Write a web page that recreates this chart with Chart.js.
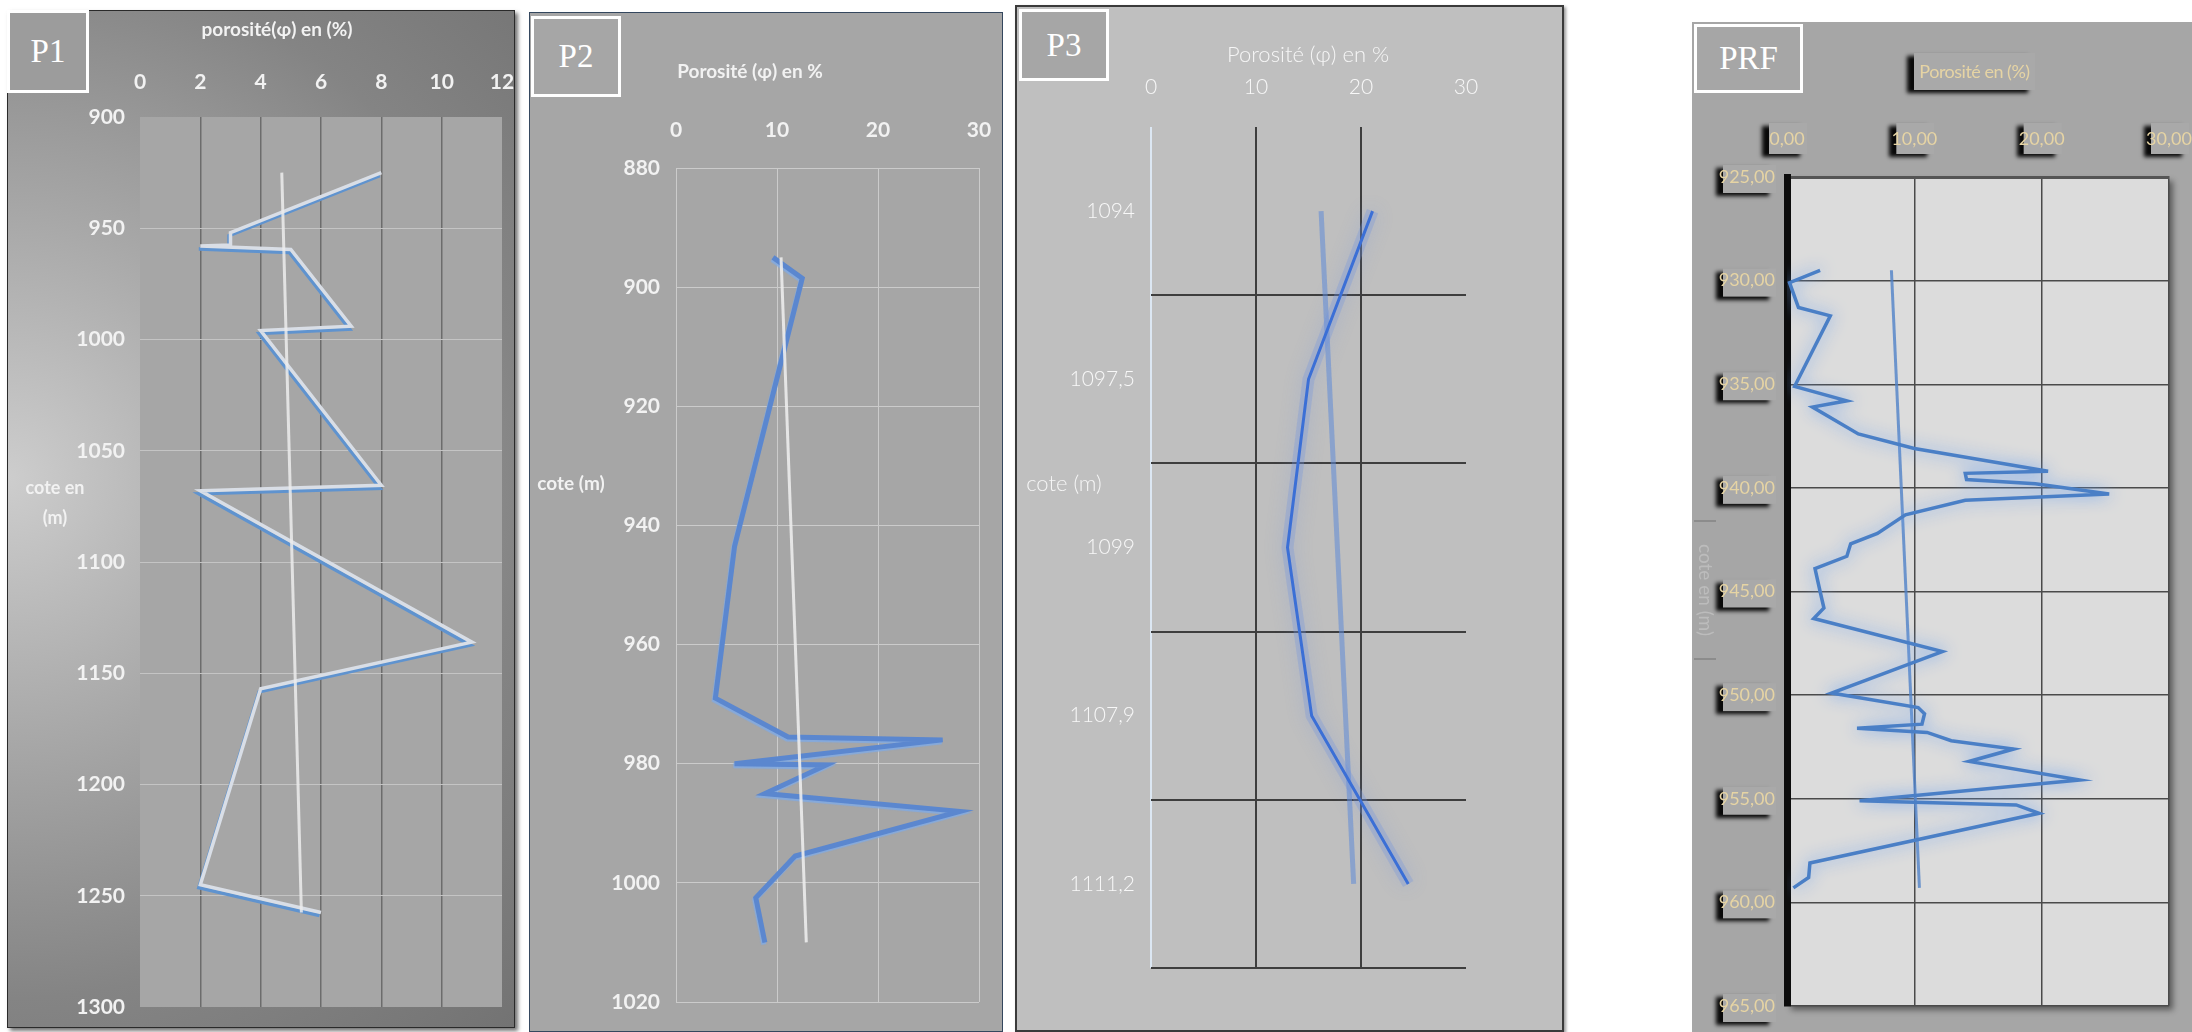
<!DOCTYPE html>
<html>
<head>
<meta charset="utf-8">
<script src="https://cdn.jsdelivr.net/npm/chart.js@4.4.1/dist/chart.umd.min.js"></script>
<style>
  body { margin: 0; width: 2192px; height: 1032px; background: #fff; position: relative; overflow: hidden; font-family: Lato, 'Open Sans', sans-serif; }
  .frame { position: absolute; box-sizing: border-box; }
  canvas { position: absolute; }
  .tag { position: absolute; box-sizing: border-box; border: 3px solid #fff; color: #fff; font-family: 'Liberation Serif', 'DejaVu Serif', serif; font-size: 33px; display: flex; align-items: center; justify-content: center; }
  .txt { position: absolute; white-space: nowrap; transform: translate(-50%, -50%); color: #f2f2f2; }
</style>
</head>
<body>
<div class="frame" style="left:7px;top:10px;width:508px;height:1018px;border:1px solid #2a2a2a;box-shadow:3px 3px 4px rgba(0,0,0,.55);background:radial-gradient(circle at 0% 46%, #cdcdcd 0px, #a8a8a8 260px, #848484 520px, #676767 900px);"></div>
<div class="frame" style="left:529px;top:12px;width:474px;height:1020px;border:1px solid #34475e;background:#a6a6a6;"></div>
<div class="frame" style="left:1015px;top:5px;width:549px;height:1027px;border:2px solid #3a3a3a;background:#bfbfbf;box-shadow:2px 2px 3px rgba(0,0,0,.4);"></div>
<div class="frame" style="left:1692px;top:22px;width:500px;height:1010px;background:#a6a6a6;"></div>

<canvas id="p1"></canvas>
<canvas id="p2"></canvas>
<canvas id="p3"></canvas>
<canvas id="prf"></canvas>

<div class="tag" style="left:7px;top:10px;width:82px;height:83px;background:#9c9c9c;">P1</div>
<div class="tag" style="left:531px;top:16px;width:90px;height:81px;background:#a6a6a6;">P2</div>
<div class="tag" style="left:1019px;top:9px;width:90px;height:72px;background:#a6a6a6;">P3</div>
<div class="tag" style="left:1694px;top:24px;width:109px;height:69px;background:#a6a6a6;">PRF</div>

<div class="txt" style="left:277px;top:28px;font-size:19px;font-weight:bold;">porosité(φ) en (%)</div>
<div class="txt" style="left:55px;top:487px;font-size:18px;font-weight:bold;">cote en</div>
<div class="txt" style="left:55px;top:517px;font-size:18px;font-weight:bold;">(m)</div>

<div class="txt" style="left:750px;top:70px;font-size:19px;font-weight:bold;">Porosité (φ) en %</div>
<div class="txt" style="left:571px;top:482px;font-size:19px;font-weight:bold;">cote (m)</div>

<div class="txt" style="left:1308px;top:53px;font-size:22px;font-weight:300;color:#f6f6f6;">Porosité (φ) en %</div>
<div class="txt" style="left:1064px;top:482px;font-size:22px;font-weight:300;color:#f6f6f6;">cote (m)</div>

<div style="position:absolute;left:1914px;top:53px;width:121px;height:37px;background:#a9a9a9;box-shadow:-7px 3px 4px rgba(0,0,0,.95);color:#e6d4a4;font-size:18px;line-height:37px;text-align:center;white-space:nowrap;letter-spacing:-0.5px;">Porosité en (%)</div>
<div style="position:absolute;left:1694px;top:520px;width:22px;height:140px;border-top:2px solid #8c8c8c;border-bottom:2px solid #8c8c8c;box-sizing:border-box;"></div>
<div class="txt" style="left:1706px;top:590px;font-size:19px;color:#bcbcbc;transform:translate(-50%,-50%) rotate(90deg);">cote en (m)</div>

<script>
// P1
const p1Depth = [925, 952, 957.5, 958, 959.5, 994, 996, 1065.5, 1068, 1136, 1157, 1245, 1257.5]
const p1Poro = [8, 3, 3, 2, 5, 7, 4, 8, 2, 11, 4, 2, 6]
const p1TrendDepth = [925, 1257.5]
const p1TrendPoro = [4.7, 5.35]
const p1XTicks = [0, 2, 4, 6, 8, 10, 12]
const p1YTicks = [900, 950, 1000, 1050, 1100, 1150, 1200, 1250, 1300]

// P2
const p2Depth = [895, 898.5, 943.5, 969, 975.5, 976, 980, 980.2, 985, 988, 995.5, 1002.5, 1010]
const p2Poro = [9.6, 12.5, 5.8, 3.9, 11.1, 26.4, 5.8, 14.9, 8.8, 28.1, 11.8, 7.9, 8.8]
const p2TrendDepth = [895, 1010]
const p2TrendPoro = [10.4, 12.9]
const p2XTicks = [0, 10, 20, 30]
const p2YTicks = [880, 900, 920, 940, 960, 980, 1000, 1020]

// P3 (cotes en catégories)
const p3Cotes = ['1094', '1097,5', '1099', '1107,9', '1111,2']
const p3Poro = [21.1, 15.0, 13.0, 15.3, 24.5]
const p3TrendCotes = ['1094', '1111,2']
const p3TrendPoro = [16.2, 19.3]
const p3XTicks = [0, 10, 20, 30]

// PRF
const prfDepth = [929.5, 930.1, 931.3, 931.7, 935.1, 935.8, 936.1, 937.4, 938.1, 939.2, 939.3, 939.6, 939.8,
  940.3, 940.6, 941.3, 942.2, 942.7, 943.3, 943.9, 945.0, 945.8, 946.3, 947.9, 949.9, 950.6, 950.9, 951.4,
  951.6, 951.8, 952.2, 952.6, 953.2, 954.1, 955.1, 955.3, 955.7, 958.1, 958.8, 959.3]
const prfPoro = [2.6, 0.2, 0.9, 3.4, 0.6, 4.7, 2.0, 5.6, 10.0, 20.5, 14.0, 14.1, 19.5,
  25.3, 14.0, 9.3, 7.1, 5.0, 4.7, 2.2, 2.6, 2.9, 2.1, 12.2, 3.5, 10.3, 10.8, 10.6,
  5.5, 11.0, 12.9, 17.8, 14.3, 23.0, 5.7, 18.0, 19.8, 1.8, 1.7, 0.5]
const prfTrendDepth = [929.5, 959.3]
const prfTrendPoro = [8.2, 10.4]
const prfXTicks = [0, 10, 20, 30]
const prfYTicks = [925, 930, 935, 940, 945, 950, 955, 960, 965]

Chart.defaults.font.family = "Lato, 'Open Sans', sans-serif"

// fills the plot rectangle
const plotBg = {
  id: 'plotBg',
  beforeDraw(chart, args, opts) {
    if (!opts.color) return
    const { ctx, chartArea: a } = chart
    ctx.save()
    if (opts.shadow) {
      ctx.shadowColor = opts.shadow
      ctx.shadowBlur = 6
      ctx.shadowOffsetX = 4
      ctx.shadowOffsetY = 4
    }
    ctx.fillStyle = opts.color
    ctx.fillRect(a.left, a.top, a.right - a.left, a.bottom - a.top)
    ctx.restore()
  },
}

// shadow / glow under a line, set per dataset with `glow`
const lineGlow = {
  id: 'lineGlow',
  beforeDatasetDraw(chart, args) {
    const g = chart.data.datasets[args.index].glow
    if (!g) return
    const ctx = chart.ctx
    ctx.save()
    ctx.shadowColor = g.color
    ctx.shadowBlur = g.blur || 0
    ctx.shadowOffsetX = g.dx || 0
    ctx.shadowOffsetY = g.dy || 0
  },
  afterDatasetDraw(chart, args) {
    if (chart.data.datasets[args.index].glow) chart.ctx.restore()
  },
}

Chart.register(plotBg, lineGlow)

function points(xs, ys) {
  return xs.map((v, i) => ({ x: v, y: ys[i] }))
}

function useTicks(list) {
  return (scale) => { scale.ticks = list.map((v) => ({ value: v })) }
}

function panelChart(id, frame, area, datasets, scales, pluginOpts, extra) {
  const canvas = document.getElementById(id)
  canvas.width = frame.w
  canvas.height = frame.h
  canvas.style.left = frame.x + 'px'
  canvas.style.top = frame.y + 'px'
  scales.x.afterFit = (s) => { s.height = area.top - frame.y; s.paddingLeft = 0; s.paddingRight = 0 }
  scales.y.afterFit = (s) => { s.width = area.left - frame.x; s.paddingTop = 0; s.paddingBottom = 0 }
  return new Chart(canvas, {
    type: 'line',
    data: { datasets },
    plugins: extra || [],
    options: {
      responsive: false,
      devicePixelRatio: 1,
      animation: false,
      layout: { padding: { left: 0, top: 0, right: frame.x + frame.w - area.right, bottom: frame.y + frame.h - area.bottom } },
      elements: { point: { radius: 0 }, line: { tension: 0 } },
      plugins: Object.assign({ legend: { display: false }, tooltip: { enabled: false } }, pluginOpts),
      scales,
    },
  })
}

// ---- P1
panelChart('p1', { x: 7, y: 10, w: 508, h: 1018 }, { left: 140, top: 117, right: 502, bottom: 1007 }, [
  { data: points(p1TrendPoro, p1TrendDepth), borderColor: 'rgba(236,236,236,0.85)', borderWidth: 3 },
  { data: points(p1Poro, p1Depth), borderColor: '#d9dee6', borderWidth: 3.5, glow: { color: '#5f93cf', dx: -1.5, dy: 3 } },
], {
  x: {
    type: 'linear', position: 'top', min: 0, max: 12, afterBuildTicks: useTicks(p1XTicks),
    grid: { drawTicks: false, lineWidth: 1.5, color: (c) => (c.tick && (c.tick.value === 0 || c.tick.value === 12)) ? 'transparent' : '#6c6c6c' },
    border: { display: false },
    ticks: { padding: 22, color: '#f2f2f2', font: { size: 21, weight: 'bold' }, callback: (v) => String(v) },
  },
  y: {
    type: 'linear', reverse: true, min: 900, max: 1300, afterBuildTicks: useTicks(p1YTicks),
    grid: { drawTicks: false, lineWidth: 1, color: (c) => (c.tick && (c.tick.value === 900 || c.tick.value === 1300)) ? 'transparent' : '#c4c4c4' },
    border: { display: false },
    ticks: { padding: 15, color: '#f2f2f2', font: { size: 21, weight: 'bold' }, callback: (v) => String(v) },
  },
}, { plotBg: { color: '#a6a6a6' } })

// ---- P2
panelChart('p2', { x: 529, y: 12, w: 474, h: 1020 }, { left: 676, top: 168, right: 979, bottom: 1002 }, [
  { data: points(p2TrendPoro, p2TrendDepth), borderColor: 'rgba(236,236,236,0.9)', borderWidth: 3 },
  { data: points(p2Poro, p2Depth), borderColor: '#5b87cf', borderWidth: 5, glow: { color: 'rgba(130,170,225,0.9)', dx: -1, dy: 2, blur: 1 } },
], {
  x: {
    type: 'linear', position: 'top', min: 0, max: 30, afterBuildTicks: useTicks(p2XTicks),
    grid: { drawTicks: false, lineWidth: 1, color: '#cbcbcb' },
    border: { display: false },
    ticks: { padding: 25, color: '#f2f2f2', font: { size: 21, weight: 'bold' }, callback: (v) => String(v) },
  },
  y: {
    type: 'linear', reverse: true, min: 880, max: 1020, afterBuildTicks: useTicks(p2YTicks),
    grid: { drawTicks: false, lineWidth: 1, color: '#cbcbcb' },
    border: { display: false },
    ticks: { padding: 16, color: '#f2f2f2', font: { size: 21, weight: 'bold' }, callback: (v) => String(v) },
  },
}, {})

// ---- P3
panelChart('p3', { x: 1015, y: 5, w: 549, h: 1027 }, { left: 1151, top: 127, right: 1466, bottom: 968 }, [
  { data: points(p3Poro, p3Cotes), borderColor: '#3b6fd6', borderWidth: 3 },
  // soft halo under the measured curve
  { data: points(p3Poro, p3Cotes), borderColor: 'rgba(112,146,222,0.3)', borderWidth: 12, glow: { color: 'rgba(105,140,225,0.7)', blur: 18 } },
  { data: points(p3TrendPoro, p3TrendCotes), borderColor: 'rgba(95,138,215,0.55)', borderWidth: 5 },
], {
  x: {
    type: 'linear', position: 'top', min: 0, max: 30, afterBuildTicks: useTicks(p3XTicks),
    grid: {
      drawTicks: false, lineWidth: 2,
      color: (c) => {
        if (!c.tick) return 'transparent'
        if (c.tick.value === 0) return '#dce7f3'
        if (c.tick.value === 30) return 'transparent'
        return '#3e3e3e'
      },
    },
    border: { display: false },
    ticks: { padding: 27, color: '#f8f8f8', font: { size: 21, weight: 300 }, callback: (v) => String(v) },
  },
  y: {
    type: 'category', labels: p3Cotes, offset: true,
    grid: { offset: true, drawTicks: false, lineWidth: 2, color: (c) => (c.index === 0 || c.index === p3Cotes.length) ? 'transparent' : '#3e3e3e' },
    border: { display: false },
    ticks: { padding: 16, color: '#f8f8f8', font: { size: 21, weight: 300 } },
  },
}, {})

// ---- PRF
const tickBoxes = {
  id: 'tickBoxes',
  beforeDraw(chart) {
    const { ctx, chartArea: a, scales: { x, y } } = chart
    ctx.save()
    ctx.shadowColor = 'rgba(0,0,0,0.95)'
    ctx.shadowBlur = 4
    ctx.shadowOffsetX = -7
    ctx.shadowOffsetY = 3
    ctx.fillStyle = '#a9a9a9'
    x.ticks.forEach((t) => {
      const px = x.getPixelForValue(t.value)
      ctx.fillRect(px - 18, a.top - 54, 38, 31)
    })
    y.ticks.forEach((t) => {
      const py = y.getPixelForValue(t.value)
      ctx.fillRect(a.left - 64, py - 12, 53, 28)
    })
    ctx.restore()
  },
}
const fmt = (v) => Number(v).toFixed(2).replace('.', ',')

panelChart('prf', { x: 1692, y: 22, w: 500, h: 1010 }, { left: 1787, top: 177, right: 2169, bottom: 1006 }, [
  { data: points(prfPoro, prfDepth), borderColor: '#4a7fc6', borderWidth: 3.5, glow: { color: 'rgba(105,160,240,0.95)', blur: 16 } },
  { data: points(prfTrendPoro, prfTrendDepth), borderColor: 'rgba(80,130,200,0.8)', borderWidth: 3 },
], {
  x: {
    type: 'linear', position: 'top', min: 0, max: 30, afterBuildTicks: useTicks(prfXTicks),
    grid: { drawTicks: false, lineWidth: 1.5, color: '#4a4a4a' },
    border: { display: true, color: '#555', width: 3 },
    ticks: { padding: 27, color: '#e6d4a4', font: { size: 18 }, callback: fmt },
  },
  y: {
    type: 'linear', reverse: true, min: 925, max: 965, afterBuildTicks: useTicks(prfYTicks),
    grid: { drawTicks: false, lineWidth: 1.5, color: '#4a4a4a' },
    border: { display: true, color: '#0d0d0d', width: 7 },
    ticks: { padding: 12, color: '#e6d4a4', font: { size: 18 }, callback: fmt },
  },
}, { plotBg: { color: '#dcdcdc', shadow: 'rgba(0,0,0,0.45)' } }, [tickBoxes])
</script>
</body>
</html>
